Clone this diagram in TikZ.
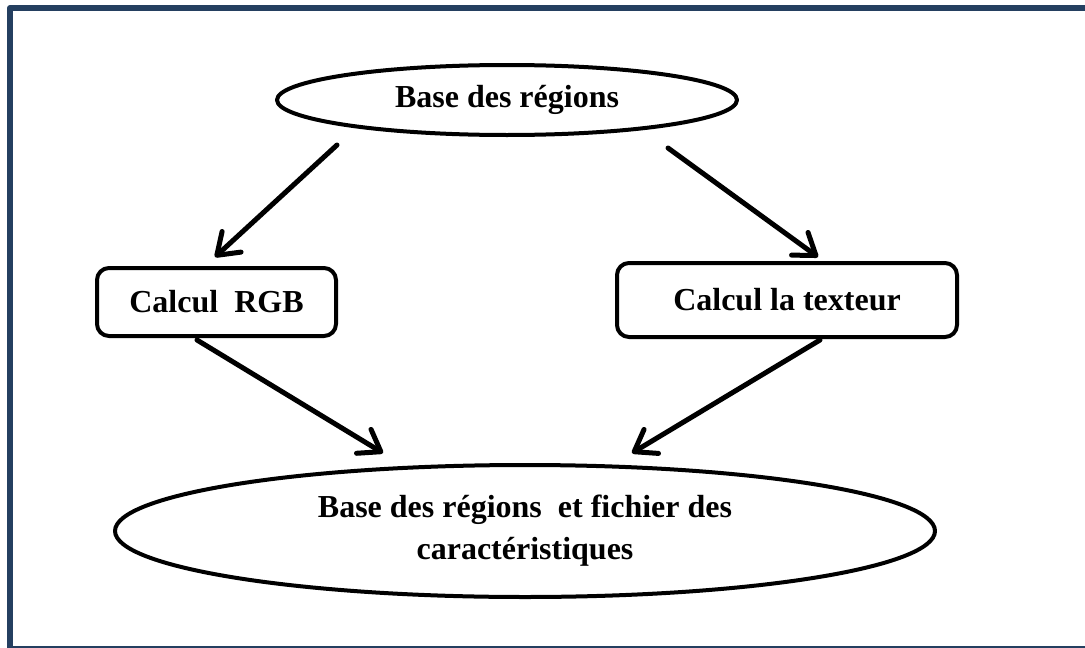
\documentclass[tikz,border=0pt]{standalone}
\usepackage{fontspec}
\setmainfont{Liberation Serif}
\usetikzlibrary{shapes.geometric,arrows.meta}
\definecolor{cadrebleu}{HTML}{243F60}
\begin{document}
\begin{tikzpicture}[x=1pt,y=-1pt,line join=round,line cap=round,font=\bfseries\fontsize{32}{42}\selectfont,
	ovale/.style={ellipse,draw,line width=4pt,inner sep=0pt},
	boite/.style={rectangle,draw,rounded corners=12pt,line width=4pt},
	fleche/.style={line width=5pt,-{Straight Barb[length=20pt,width=28pt,round]}}]

	% Cadre de la figure
	\clip (0,0) rectangle (1085,648);
	\draw[cadrebleu,line width=6pt] (10,8) rectangle (1088,649);

	% Les noeuds
	\node[ovale,minimum width=460pt,minimum height=70pt] (base) at (507,100) {Base des régions};
	\node[boite,minimum width=239pt,minimum height=68pt] (rgb) at (216.5,302) {Calcul\ \ RGB};
	\node[boite,minimum width=340pt,minimum height=74pt] (texture) at (787,300) {Calcul la texteur};
	\node[ovale,minimum width=820pt,minimum height=132pt,align=center] (fichier) at (525,531) {Base des régions\ \ et fichier des\\caractéristiques};

	% Extrémités des flèches
	\coordinate (d1) at (337,145);
	\coordinate (f1) at (215,257);
	\coordinate (d2) at (668,148);
	\coordinate (f2) at (818,257);
	\coordinate (d3) at (197,340);
	\coordinate (f3) at (383,453);
	\coordinate (d4) at (820,340);
	\coordinate (f4) at (632,453);

	% Les flèches
	\draw[fleche] (d1) -- (f1);
	\draw[fleche] (d2) -- (f2);
	\draw[fleche] (d3) -- (f3);
	\draw[fleche] (d4) -- (f4);

\end{tikzpicture}
\end{document}
